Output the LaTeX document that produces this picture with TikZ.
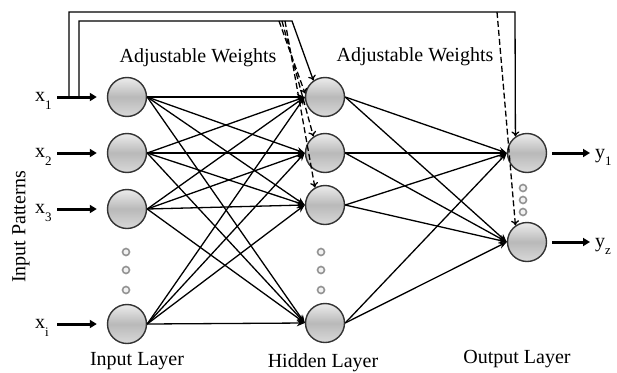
\documentclass[tikz,border=0pt]{standalone}
\usepackage{fontspec}
\setmainfont{Liberation Serif}
\usetikzlibrary{arrows.meta}
\begin{document}
\begin{tikzpicture}[x=1pt,y=-1pt,
  neuron/.style={circle,minimum size=39pt,inner sep=0pt,draw=gray!40!black,line width=1.4pt,top color=gray!15,bottom color=gray!30,middle color=gray!55},
  dotc/.style={circle,minimum size=7pt,inner sep=0pt,draw=gray!85,line width=1.6pt,fill=gray!10},
  conn/.style={line width=1.3pt,-{Stealth[length=8pt,width=6.5pt]}},
  thickarr/.style={line width=3pt,-{Triangle[length=7pt,width=8pt]}},
  fb/.style={line width=1.3pt,-{To[length=5pt,width=8pt]}},
  fbd/.style={fb,dash pattern=on 6pt off 3pt},
  lbl/.style={font=\fontsize{20}{24}\selectfont,inner sep=0pt},
]
\useasboundingbox (0,0) rectangle (617,372);

% neurons
\node[neuron] (I1) at (127,97) {};
\node[neuron] (I2) at (127,153) {};
\node[neuron] (I3) at (127,209) {};
\node[neuron] (I4) at (127,324) {};
\node[neuron] (H1) at (325,97) {};
\node[neuron] (H2) at (325,153) {};
\node[neuron] (H3) at (325,205) {};
\node[neuron] (H4) at (325,323) {};
\node[neuron] (O1) at (527,153) {};
\node[neuron] (O2) at (527,242) {};

% ellipsis dots
\foreach \y [count=\k] in {252,270,290} {
  \node[dotc] (di\k) at (126,\y) {};
  \node[dotc] (dh\k) at (321,\y) {};
}
\foreach \y [count=\k] in {188,200,212} \node[dotc] (do\k) at (523,\y) {};

% connections
\foreach \a in {I1,I2,I3,I4}
  \foreach \b in {H1,H2,H3,H4}
    \draw[conn] (\a.east) -- (\b.west);
\foreach \a in {H1,H2,H3,H4}
  \foreach \b in {O1,O2}
    \draw[conn] (\a.east) -- (\b.west);

% input labels and arrows
\node[lbl,anchor=base west] (x1) at (35,101) {x\raisebox{-8pt}{\fontsize{13}{13}\selectfont 1}};
\node[lbl,anchor=base west] (x2) at (35,157) {x\raisebox{-8pt}{\fontsize{13}{13}\selectfont 2}};
\node[lbl,anchor=base west] (x3) at (35,213) {x\raisebox{-8pt}{\fontsize{13}{13}\selectfont 3}};
\node[lbl,anchor=base west] (xi) at (35,328) {x\raisebox{-8pt}{\fontsize{13}{13}\selectfont i}};
\coordinate (s1) at (57,97);
\coordinate (s2) at (57,153);
\coordinate (s3) at (57,209);
\coordinate (s4) at (57,324);
\draw[thickarr,shorten >=10pt] (s1) -- (I1.west);
\draw[thickarr,shorten >=10pt] (s2) -- (I2.west);
\draw[thickarr,shorten >=10pt] (s3) -- (I3.west);
\draw[thickarr,shorten >=10pt] (s4) -- (I4.west);

% output arrows and labels
\coordinate (e1) at (590,153);
\coordinate (e2) at (590,242);
\draw[thickarr,shorten <=5pt] (O1.east) -- (e1);
\draw[thickarr,shorten <=5pt] (O2.east) -- (e2);
\node[lbl,anchor=base west] (y1) at (595,158) {y\raisebox{-7pt}{\fontsize{13}{13}\selectfont 1}};
\node[lbl,anchor=base west] (yz) at (595,247) {y\raisebox{-7pt}{\fontsize{13}{13}\selectfont z}};

% feedback lines
\coordinate (f1) at (69,97);
\coordinate (f1a) at (69,12);
\coordinate (f1b) at (515,12);
\draw[fb] (f1) -- (f1a) -- (f1b) -- (O1.125);
\coordinate (f2) at (79,97);
\coordinate (f2a) at (79,21);
\coordinate (f2b) at (292,21);
\draw[fb] (f2) -- (f2a) -- (f2b) -- (H1.125);
\coordinate (d1) at (279,21);
\coordinate (d2) at (282,21);
\coordinate (d3) at (285,21);
\draw[fbd] (d1) -- (H1.170);
\draw[fbd] (d2) -- (H2.125);
\draw[fbd] (d3) -- (H3.120);
\coordinate (d4) at (497,12);
\draw[fbd] (d4) -- (O2.125);

% texts
\node[lbl,anchor=base] (aw1) at (198,62) {Adjustable Weights};
\node[lbl,anchor=base] (aw2) at (415,61) {Adjustable Weights};
\node[lbl,rotate=90] (ip) at (21,227) {Input Patterns};
\node[lbl,anchor=base] (il) at (137,365) {Input Layer};
\node[lbl,anchor=base] (hl) at (323,367) {Hidden Layer};
\node[lbl,anchor=base] (ol) at (517,363) {Output Layer};
\end{tikzpicture}
\end{document}
